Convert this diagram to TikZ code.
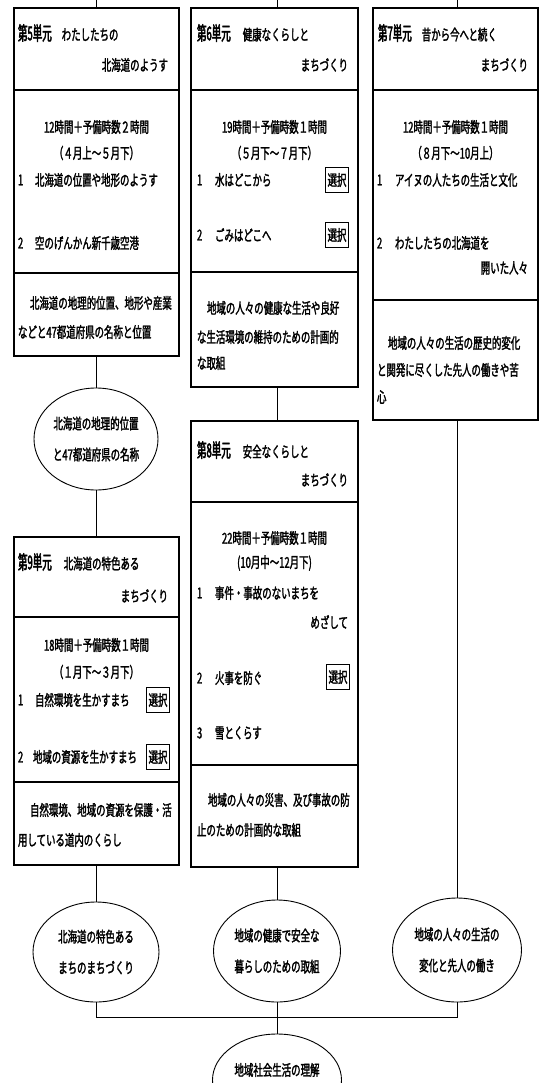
\documentclass[tikz,border=0pt]{standalone}
\usepackage{fontspec}
\newfontfamily\jp[FakeStretch=0.63,FakeBold=1.8]{Noto Sans CJK JP}
\newfontfamily\jph[FakeStretch=0.5,FakeBold=2.4]{Noto Sans CJK JP}
\usetikzlibrary{shapes.geometric}
\tikzset{
  every node/.style={inner sep=0pt, outer sep=0pt},
  txt/.style={font=\jp\fontsize{15}{16}\selectfont},
  lt/.style={txt, anchor=west},
  rt/.style={txt, anchor=east},
  ct/.style={txt, anchor=center},
  unitbox/.style={draw, line width=1.1pt, rectangle},
  divl/.style={line width=1.1pt},
  conn/.style={line width=0.8pt},
  oval/.style={draw, line width=0.9pt, ellipse, align=center,
    font=\jp\fontsize{15}{31}\selectfont},
  sel/.style={draw, line width=0.9pt, minimum width=23pt, minimum height=25pt,
    font=\jp\fontsize{15}{15}\selectfont}
}
\newcommand{\unitlbl}[1]{{\jph\fontsize{19}{19}\selectfont #1}}
\begin{document}
\begin{tikzpicture}[x=1pt,y=-1pt]
\useasboundingbox (0,0) rectangle (543,1083);

% ---------- unit boxes ----------
\node[unitbox, minimum width=165pt, minimum height=348pt] (b5) at (96.5,182) {};
\node[unitbox, minimum width=167pt, minimum height=379pt] (b6) at (274.5,197.5) {};
\node[unitbox, minimum width=165pt, minimum height=412pt] (b7) at (455.5,214) {};
\node[unitbox, minimum width=167pt, minimum height=446pt] (b8) at (274.5,644) {};
\node[unitbox, minimum width=165pt, minimum height=328pt] (b9) at (96.5,701) {};

% dividers
\draw[divl] (14,90) -- (179,90);
\draw[divl] (14,273) -- (179,273);
\draw[divl] (191,90) -- (358,90);
\draw[divl] (191,272) -- (358,272);
\draw[divl] (373,90) -- (538,90);
\draw[divl] (373,300) -- (538,300);
\draw[divl] (191,502) -- (358,502);
\draw[divl] (191,765) -- (358,765);
\draw[divl] (14,617) -- (179,617);
\draw[divl] (14,782) -- (179,782);

% ---------- unit 5 ----------
\node[lt] (h5a) at (18,33) {\unitlbl{第5単元}\hspace{10pt}わたしたちの};
\node[rt] (h5b) at (168,65) {北海道のようす};
\node[ct] (m5a) at (96.5,127) {12時間＋予備時数２時間};
\node[ct] (m5b) at (96.5,153) {（４月上～５月下）};
\node[lt] (n5a) at (18,180) {1};
\node[lt] (i5a) at (35,180) {北海道の位置や地形のようす};
\node[lt] (n5b) at (18,243) {2};
\node[lt] (i5b) at (35,243) {空のげんかん新千歳空港};
\node[lt] (g5a) at (30,303) {北海道の地理的位置、地形や産業};
\node[lt] (g5b) at (18,332) {などと47都道府県の名称と位置};

% ---------- unit 6 ----------
\node[lt] (h6a) at (197,33) {\unitlbl{第6単元}\hspace{12pt}健康なくらしと};
\node[rt] (h6b) at (348,65) {まちづくり};
\node[ct] (m6a) at (274.5,127) {19時間＋予備時数１時間};
\node[ct] (m6b) at (274.5,153) {（５月下～７月下）};
\node[lt] (n6a) at (197,180) {1};
\node[lt] (i6a) at (215,180) {水はどこから};
\node[sel] (s6a) at (337,180) {選択};
\node[lt] (n6b) at (197,235) {2};
\node[lt] (i6b) at (215,235) {ごみはどこへ};
\node[sel] (s6b) at (337,235) {選択};
\node[lt] (g6a) at (207,308) {地域の人々の健康な生活や良好};
\node[lt] (g6b) at (197,337) {な生活環境の維持のための計画的};
\node[lt] (g6c) at (197,363) {な取組};

% ---------- unit 7 ----------
\node[lt] (h7a) at (378,33) {\unitlbl{第7単元}\hspace{10pt}昔から今へと続く};
\node[rt] (h7b) at (528,65) {まちづくり};
\node[ct] (m7a) at (455.5,127) {12時間＋予備時数１時間};
\node[ct] (m7b) at (455.5,153) {（８月下～10月上）};
\node[lt] (n7a) at (377,180) {1};
\node[lt] (i7a) at (395,180) {アイヌの人たちの生活と文化};
\node[lt] (n7b) at (377,243) {2};
\node[lt] (i7b) at (395,243) {わたしたちの北海道を};
\node[rt] (i7c) at (528,268) {開いた人々};
\node[lt] (g7a) at (388,343) {地域の人々の生活の歴史的変化};
\node[lt] (g7b) at (377,370) {と関発に尽くした先人の働きや苦};
\node[lt] (g7c) at (377,397) {心};

% ---------- unit 8 ----------
\node[lt] (h8a) at (197,450) {\unitlbl{第8単元}\hspace{12pt}安全なくらしと};
\node[rt] (h8b) at (348,480) {まちづくり};
\node[ct] (m8a) at (274.5,538) {22時間＋予備時数１時間};
\node[ct] (m8b) at (274.5,563) {(10月中～12月下)};
\node[lt] (n8a) at (197,593) {1};
\node[lt] (i8a) at (215,593) {事件・事故のないまちを};
\node[rt] (i8b) at (348,622) {めざして};
\node[lt] (n8b) at (197,678) {2};
\node[lt] (i8c) at (215,678) {火事を防ぐ};
\node[sel] (s8) at (338,677) {選択};
\node[lt] (n8c) at (197,733) {3};
\node[lt] (i8d) at (215,733) {雪とくらす};
\node[lt] (g8a) at (208,800) {地域の人々の災害、及び事故の防};
\node[lt] (g8b) at (197,830) {止のための計画的な取組};

% ---------- unit 9 ----------
\node[lt] (h9a) at (18,562) {\unitlbl{第9単元}\hspace{12pt}北海道の特色ある};
\node[rt] (h9b) at (168,596) {まちづくり};
\node[ct] (m9a) at (96.5,645) {18時間＋予備時数１時間};
\node[ct] (m9b) at (96.5,672) {（１月下～３月下）};
\node[lt] (n9a) at (18,700) {1};
\node[lt] (i9a) at (35,700) {自然環境を生かすまち};
\node[sel] (s9a) at (158,700) {選択};
\node[lt] (n9b) at (18,757) {2};
\node[lt] (i9b) at (33,757) {地域の資源を生かすまち};
\node[sel] (s9b) at (158,757) {選択};
\node[lt] (g9a) at (30,810) {自然環境、地域の資源を保護・活};
\node[lt] (g9b) at (18,840) {用している道内のくらし};

% ---------- ellipses ----------
\node[oval, minimum width=124pt, minimum height=102pt] (eA) at (96,439) {北海道の地理的位置\\と47都道府県の名称};
\node[oval, minimum width=126pt, minimum height=100pt] (eB) at (96,952) {北海道の特色ある\\まちのまちづくり};
\node[oval, minimum width=127pt, minimum height=102pt] (eD) at (277,951) {地域の健康で安全な\\暮らしのための取組};
\node[oval, minimum width=129pt, minimum height=104pt] (eC) at (457,950) {地域の人々の生活の\\変化と先人の働き};
\node[oval, minimum width=129pt, minimum height=92pt] (eF) at (277,1080) {};
\node[ct] (eFt) at (277,1070) {地域社会生活の理解};

% ---------- connectors ----------
\coordinate (t5) at (96,0);
\coordinate (t6) at (277,0);
\coordinate (t7) at (457,0);
\draw[conn] (t5) -- (t5 |- b5.north);
\draw[conn] (t6) -- (t6 |- b6.north);
\draw[conn] (t7) -- (t7 |- b7.north);
\draw[conn] (eA.north) -- (eA.north |- b5.south);
\draw[conn] (eA.south) -- (eA.south |- b9.north);
\draw[conn] (eB.north) -- (eB.north |- b9.south);
\draw[conn] (eD.north |- b6.south) -- (eD.north |- b8.north);
\draw[conn] (eD.north) -- (eD.north |- b8.south);
\draw[conn] (eC.north) -- (eC.north |- b7.south);
\coordinate (jL) at (96,1017);
\draw[conn] (eB.south) -- (eB.south |- jL) -- (eC.south |- jL) -- (eC.south);
\draw[conn] (eD.south) -- (eF.north);
\end{tikzpicture}
\end{document}
